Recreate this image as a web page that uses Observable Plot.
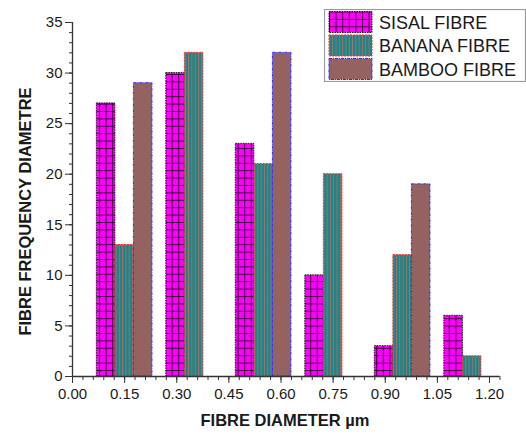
<!DOCTYPE html>
<html>
<head>
<meta charset="utf-8">
<script src="https://cdn.jsdelivr.net/npm/d3@7"></script>
<script src="https://cdn.jsdelivr.net/npm/@observablehq/plot@0.6"></script>
<style>
  body { margin: 0; background: #fff; font-family: "Liberation Sans", Arial, sans-serif; }
  #chart { position: relative; width: 526px; height: 435px; }
  #legend { position: absolute; left: 324px; top: 9px; }
</style>
</head>
<body>
<!-- fill patterns shared by the bars and the legend swatches -->
<svg width="0" height="0" style="position:absolute">
  <defs>
    <pattern id="sisalFill" width="6.6" height="7.4" patternUnits="userSpaceOnUse">
      <rect width="6.6" height="7.4" fill="#ff00ff"></rect>
      <path d="M0 0.5H6.6M0.5 0V7.4" stroke="#3a003a" stroke-width="1"></path>
    </pattern>
    <pattern id="bananaFill" width="3.3" height="10" patternUnits="userSpaceOnUse">
      <rect width="3.3" height="10" fill="#178787"></rect>
      <path d="M0.5 0V10" stroke="#b56a6a" stroke-width="0.9"></path>
    </pattern>
  </defs>
</svg>
<div id="chart"><div id="legend"></div></div>
<script>
// fibre diameter classes (µm) and frequency of each fibre type
const diameters = [0.15, 0.35, 0.55, 0.75, 0.95, 1.15];
const sisal  = [27, 30, 23, 10, 3, 6];
const banana = [13, 32, 21, 20, 12, 2];
const bamboo = [29, null, 32, null, 19, null];
const seriesNames = ["SISAL FIBRE", "BANANA FIBRE", "BAMBOO FIBRE"];
const yTicks = [0, 5, 10, 15, 20, 25, 30, 35];
const xTicks = [0.00, 0.15, 0.30, 0.45, 0.60, 0.75, 0.90, 1.05, 1.20];

const styles = [
  {fill: "url(#sisalFill)", stroke: "#1a1a1a", dash: "1.5,1"},
  {fill: "url(#bananaFill)", stroke: "#ff2a2a", dash: "2,1"},
  {fill: "#956262", stroke: "#2a2aff", dash: "3,1,1,1"}
];
const seriesValues = [sisal, banana, bamboo];
const barWidth = 0.16 / 3;

const rows = [];
seriesValues.forEach((vals, k) => {
  vals.forEach((v, i) => {
    if (v == null) return;
    const x1 = diameters[i] + (k - 1.5) * barWidth;
    rows.push({series: seriesNames[k], k, x1, x2: x1 + barWidth, v});
  });
});

const yMinor = d3.range(0, 36, 1);
const xMinor = d3.range(0, 42).map(i => +(i * 0.03).toFixed(2));

const barMarks = styles.map((s, k) =>
  Plot.rectY(rows.filter(r => r.k === k), {
    x1: "x1", x2: "x2", y: "v",
    fill: s.fill, stroke: s.stroke, strokeWidth: 1, strokeDasharray: s.dash
  })
);

const chart = Plot.plot({
  width: 526,
  height: 435,
  marginLeft: 72,
  marginRight: 37,
  marginTop: 22,
  marginBottom: 59,
  style: {fontFamily: "'Liberation Sans', Arial, sans-serif", color: "#1a1a1a", background: "#fff"},
  x: {domain: [0, 1.2]},
  y: {domain: [0, 35]},
  marks: [
    ...barMarks,
    Plot.ruleY([0], {x1: 0, x2: 1.23, stroke: "#333", strokeWidth: 1.3}),
    Plot.ruleX([0], {y1: 0, y2: 35, stroke: "#333", strokeWidth: 1.3}),
    Plot.axisY({ticks: yMinor, tickSize: 3, text: null, label: null, stroke: "#333"}),
    Plot.axisY({ticks: yTicks, tickSize: 7, tickPadding: 3, fontSize: 15, label: null, stroke: "#333"}),
    Plot.axisX({ticks: xMinor, tickSize: 4, text: null, label: null, stroke: "#333"}),
    Plot.axisX({ticks: xTicks, tickSize: 7, tickPadding: 5, fontSize: 15, tickFormat: d3.format(".2f"), label: null, stroke: "#333"}),
    Plot.text(["FIBRE DIAMETER µm"], {frameAnchor: "bottom", dy: 49, dx: 4, fontSize: 16.5, fontWeight: "bold", fill: "#1a1a1a"}),
    Plot.text(["FIBRE FREQUENCY DIAMETRE"], {frameAnchor: "left", textAnchor: "middle", rotate: -90, dx: -47, dy: 12, fontSize: 16.5, fontWeight: "bold", fill: "#1a1a1a"})
  ]
});
document.getElementById("chart").prepend(chart);

// legend box in the upper right corner
const legend = d3.select("#legend").append("svg")
  .attr("width", 202).attr("height", 73)
  .style("display", "block");
legend.append("rect")
  .attr("x", 0.5).attr("y", 0.5).attr("width", 201).attr("height", 72)
  .attr("fill", "#fff").attr("stroke", "#9a9a9a").attr("stroke-width", 1.2);
seriesNames.forEach((name, k) => {
  const g = legend.append("g").attr("transform", `translate(5,${2.5 + k * 23.5})`);
  g.append("rect")
    .attr("width", 43).attr("height", 21)
    .attr("fill", styles[k].fill).attr("stroke", styles[k].stroke)
    .attr("stroke-dasharray", styles[k].dash);
  g.append("text")
    .attr("x", 50).attr("y", 17)
    .attr("font-size", 18)
    .attr("font-family", "'Liberation Sans', Arial, sans-serif")
    .attr("fill", "#1a1a1a")
    .text(name);
});
</script>
</body>
</html>
